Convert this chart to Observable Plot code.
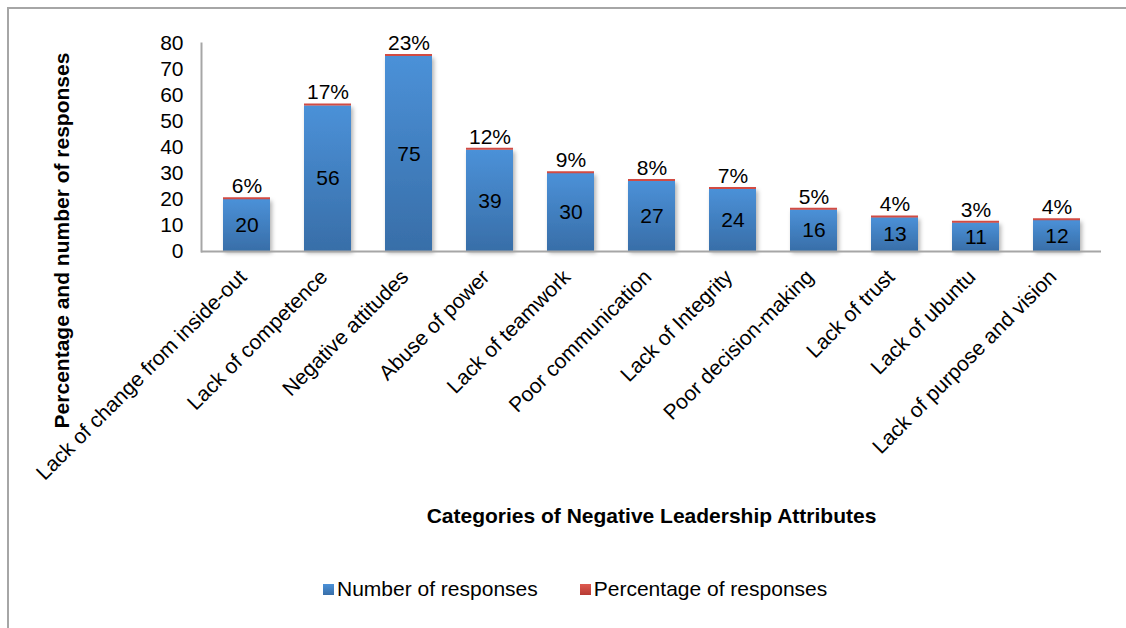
<!DOCTYPE html>
<html>
<head>
<meta charset="utf-8">
<script src="https://cdn.jsdelivr.net/npm/d3@7"></script>
<script src="https://cdn.jsdelivr.net/npm/@observablehq/plot@0.6"></script>
<style>
  body { margin: 0; background: #fff; font-family: "Liberation Sans", Arial, sans-serif; }
  #frame { position: absolute; left: 7px; top: 7px; width: 1140px; height: 640px;
           border-top: 2px solid #a6a6a6; border-left: 2px solid #a6a6a6; }
  #chart { position: absolute; left: 0; top: 0; }
  #legend { position: absolute; left: 323px; top: 577px; display: flex; align-items: center;
            font-size: 21px; color: #000; }
  .item { display: flex; align-items: center; margin-right: 42px; }
  .sw { width: 11px; height: 11px; margin-right: 3px; }
</style>
</head>
<body>
<div id="frame"></div>
<div id="chart"></div>
<div id="legend"></div>
<script>
const categories = [
  "Lack of change from inside-out",
  "Lack of competence",
  "Negative attitudes",
  "Abuse of power",
  "Lack of teamwork",
  "Poor communication",
  "Lack of Integrity",
  "Poor decision-making",
  "Lack of trust",
  "Lack of ubuntu",
  "Lack of purpose and vision"
];
const responses = [20, 56, 75, 39, 30, 27, 24, 16, 13, 11, 12];
const percentages = [0.06, 0.17, 0.23, 0.12, 0.09, 0.08, 0.07, 0.05, 0.04, 0.03, 0.04];
const seriesNames = ["Number of responses", "Percentage of responses"];
const yTicks = [0, 10, 20, 30, 40, 50, 60, 70, 80];
const xTitle = "Categories of Negative Leadership Attributes";
const yTitle = "Percentage and number of responses";

const data = categories.map((c, i) => ({cat: c, count: responses[i], pct: percentages[i]}));

const RED = "#d24b43", AXIS = "#a6a6a6";
const H = 560;

const plot = Plot.plot({
  width: 1126,
  height: H,
  marginLeft: 201,
  marginRight: 25,
  marginTop: 43,
  marginBottom: H - 251,
  style: {fontFamily: "'Liberation Sans', Arial, sans-serif", fontSize: "21px", color: "#000", background: "transparent", overflow: "visible"},
  x: {domain: categories, paddingInner: 0.425, paddingOuter: 0.2125},
  y: {domain: [0, 80]},
  marks: [
    Plot.barY(data, {x: "cat", y: "count", fill: "url(#blueGrad)"}),
    Plot.tickY(data, {x: "cat", y: d => d.count + d.pct, stroke: RED, strokeWidth: 2, dy: -1}),
    Plot.frame({anchor: "left", stroke: AXIS, strokeWidth: 2}),
    Plot.ruleY([0], {stroke: AXIS, strokeWidth: 2}),
    Plot.axisY({ticks: yTicks, tickSize: 0, tickPadding: 18, fontSize: 21, label: null}),
    Plot.axisX({tickRotate: -45, tickSize: 0, tickPadding: 22, dx: -4, fontSize: 21, label: null}),
    Plot.text(data, {x: "cat", y: d => d.count / 2, text: d => String(d.count), fontSize: 21, fill: "#000"}),
    Plot.text(data, {x: "cat", y: d => d.count + d.pct, text: d => Math.round(d.pct * 100) + "%", fontSize: 21, fill: "#000", dy: -13}),
    Plot.text([xTitle], {text: d => d, frameAnchor: "bottom", dy: 271, fontSize: 21, fontWeight: "bold", fill: "#000"}),
    Plot.text([yTitle], {text: d => d, frameAnchor: "left", textAnchor: "middle", dx: -139, dy: 93, rotate: -90, fontSize: 21, fontWeight: "bold", fill: "#000"})
  ]
});

// gradient + shadow definitions
const svg = d3.select(plot);
const defs = svg.insert("defs", ":first-child");
const g = defs.append("linearGradient").attr("id", "blueGrad").attr("x1", 0).attr("y1", 0).attr("x2", 0).attr("y2", 1);
g.append("stop").attr("offset", "0%").attr("stop-color", "#4b91d8");
g.append("stop").attr("offset", "100%").attr("stop-color", "#386ea8");
const f = defs.append("filter").attr("id", "shadow").attr("x", "-20%").attr("y", "-20%").attr("width", "150%").attr("height", "150%");
f.append("feDropShadow").attr("dx", 2).attr("dy", 2).attr("stdDeviation", 2).attr("flood-color", "#000").attr("flood-opacity", 0.3);
svg.select('g[fill="url(#blueGrad)"]').attr("filter", "url(#shadow)");

document.getElementById("chart").appendChild(plot);

// legend
const lg = d3.select("#legend");
seriesNames.forEach((name, i) => {
  const it = lg.append("div").attr("class", "item");
  it.append("div").attr("class", "sw").style("background", i === 0 ? "linear-gradient(#4b91d8,#386ea8)" : "linear-gradient(#de5a50,#b73a33)");
  it.append("span").text(name);
});
</script>
</body>
</html>
